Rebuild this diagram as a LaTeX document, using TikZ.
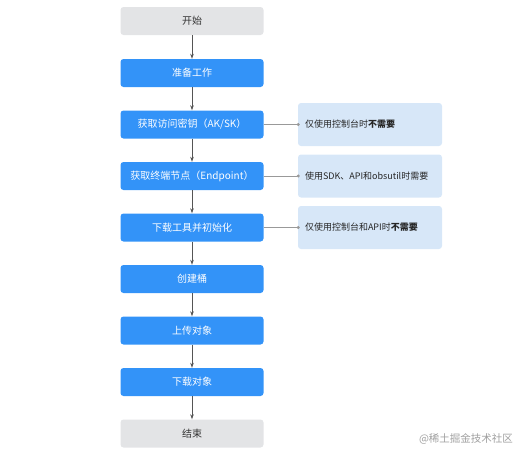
\documentclass[tikz,border=0pt]{standalone}
\usepackage{fontspec}
\setmainfont{Noto Sans CJK SC}
\usetikzlibrary{arrows.meta}
\definecolor{stepblue}{HTML}{3393F8}
\definecolor{endgray}{HTML}{E3E4E6}
\definecolor{noteblue}{HTML}{D7E7F8}
\definecolor{linegray}{HTML}{555555}
\tikzset{
  stepbox/.style={rectangle, rounded corners=3pt, fill=stepblue, text=white,
    minimum width=143pt, minimum height=28pt, inner sep=0pt, font=\fontsize{10}{12}\selectfont},
  endbox/.style={stepbox, fill=endgray, text=black!80},
  notebox/.style={rectangle, rounded corners=3pt, fill=noteblue, text=black!85,
    minimum width=144pt, minimum height=43pt, text width=130pt, align=left,
    inner xsep=7pt, font=\fontsize{9}{11}\selectfont},
  flow/.style={draw=linegray, line width=0.8pt, -{Stealth[length=5pt,width=3.5pt]}},
  hint/.style={draw=gray!80, line width=0.8pt, -{Circle[length=3pt]}}
}
\begin{document}
\begin{tikzpicture}[x=1pt,y=-1pt]
\useasboundingbox (0,0) rectangle (528,458);
\node[endbox] (start) at (192,21) {开始};
\node[stepbox] (prep) at (192,73) {准备工作};
\node[stepbox] (aksk) at (192,124.5) {获取访问密钥（AK/SK）};
\node[stepbox] (endp) at (192,176) {获取终端节点（Endpoint）};
\node[stepbox] (tool) at (192,227.5) {下载工具并初始化};
\node[stepbox] (bucket) at (192,279) {创建桶};
\node[stepbox] (upload) at (192,330.5) {上传对象};
\node[stepbox] (download) at (192,382) {下载对象};
\node[endbox] (stop) at (192,433.5) {结束};
\node[notebox] (noteA) at (370,124.5) {仅使用控制台时\textbf{不需要}};
\node[notebox] (noteB) at (370,176) {使用SDK、API和obsutil时需要};
\node[notebox] (noteC) at (370,227.5) {仅使用控制台和API时\textbf{不需要}};
\node[text=gray!75, font=\fontsize{10.5}{12}\selectfont] (mark) at (466,439) {@稀土掘金技术社区};
\draw[flow] (start) -- (prep);
\draw[flow] (prep) -- (aksk);
\draw[flow] (aksk) -- (endp);
\draw[flow] (endp) -- (tool);
\draw[flow] (tool) -- (bucket);
\draw[flow] (bucket) -- (upload);
\draw[flow] (upload) -- (download);
\draw[flow] (download) -- (stop);
\draw[hint] (aksk.east) -- ([xshift=2pt]noteA.west);
\draw[hint] (endp.east) -- ([xshift=2pt]noteB.west);
\draw[hint] (tool.east) -- ([xshift=2pt]noteC.west);
\end{tikzpicture}
\end{document}
